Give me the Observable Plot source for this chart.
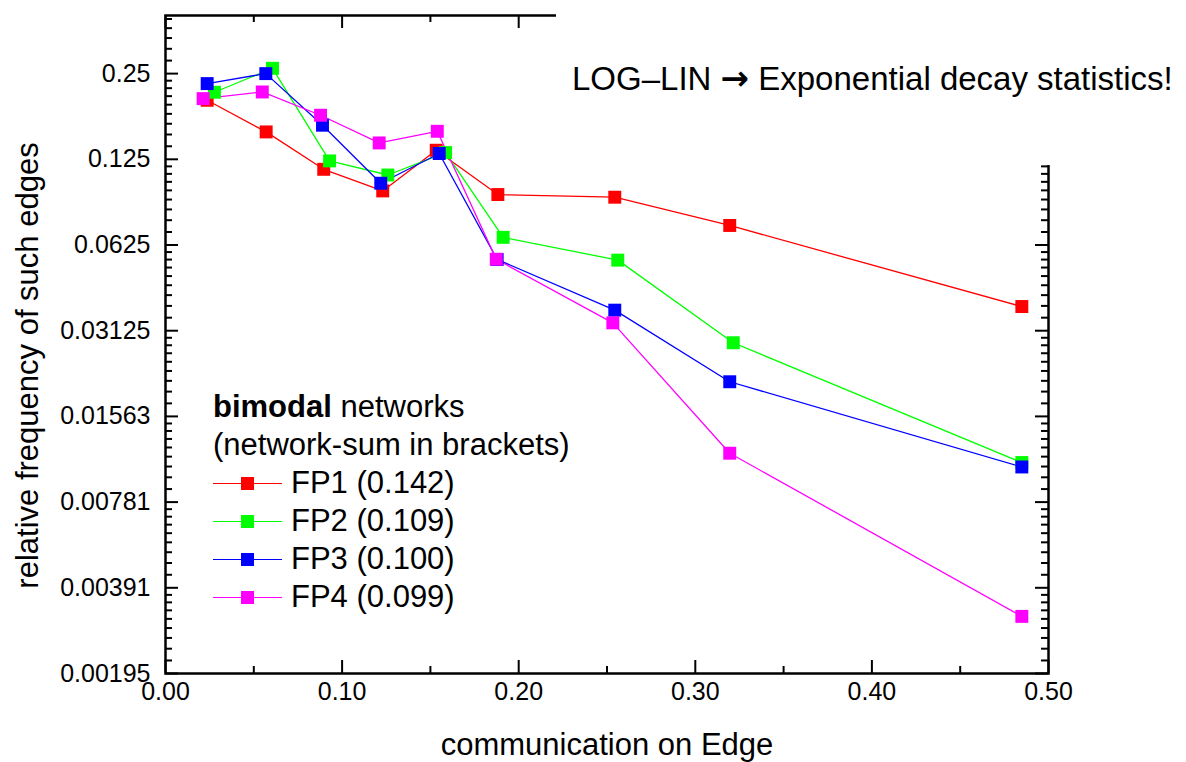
<!DOCTYPE html>
<html>
<head>
<meta charset="utf-8">
<script src="https://cdn.jsdelivr.net/npm/d3@7"></script>
<script src="https://cdn.jsdelivr.net/npm/@observablehq/plot@0.6"></script>
<style>
  html, body { margin: 0; padding: 0; background: #fff; }
  #wrap { position: relative; width: 1186px; height: 762px; overflow: hidden; font-family: "Liberation Sans", Arial, sans-serif; }
  #note { position: absolute; left: 556px; top: 0; width: 630px; height: 165px; background: #fff;
          font-size: 33px; line-height: 33px; color: #000; box-sizing: border-box; padding: 62px 0 0 16px; white-space: nowrap; }
  #note .arr { font-family: "DejaVu Sans", sans-serif; font-weight: bold; font-size: 34px; }
  #legend { position: absolute; left: 213px; top: 388px; font-size: 31px; color: #000; }
  .row { height: 38px; line-height: 38px; display: flex; align-items: center; white-space: nowrap; }
  .sw { position: relative; width: 69px; height: 38px; margin-right: 9px; }
  .sw .ln { position: absolute; left: 0; right: 0; top: 18.5px; height: 1.3px; }
  .sw .mk { position: absolute; left: 28px; top: 12.5px; width: 13px; height: 13px; }
</style>
</head>
<body>
<div id="wrap">
  <div id="chart"></div>
  <div id="note"></div>
  <div id="legend"></div>
</div>
<script>
// ---- data ----
const seriesNames = ["FP1", "FP2", "FP3", "FP4"];
const seriesLabels = ["FP1 (0.142)", "FP2 (0.109)", "FP3 (0.100)", "FP4 (0.099)"];
const seriesColors = ["#ff0000", "#00ff00", "#0000ff", "#ff00ff"];

const xFP1 = [0.0236, 0.0570, 0.0896, 0.1230, 0.1533, 0.1882, 0.2544, 0.3195, 0.4849];
const yFP1 = [0.2015, 0.156, 0.1153, 0.0968, 0.1345, 0.0940, 0.0920, 0.0732, 0.0380];
const xFP2 = [0.0277, 0.0606, 0.0929, 0.1259, 0.1586, 0.1912, 0.2561, 0.3215, 0.4849];
const yFP2 = [0.215, 0.261, 0.1234, 0.1101, 0.132, 0.0665, 0.0553, 0.02835, 0.01076];
const xFP3 = [0.0236, 0.0568, 0.0889, 0.1219, 0.1550, 0.1878, 0.2544, 0.3195, 0.4849];
const yFP3 = [0.2306, 0.250, 0.1647, 0.1030, 0.1310, 0.0556, 0.0369, 0.02068, 0.01038];
const xFP4 = [0.0213, 0.0548, 0.0878, 0.1210, 0.1539, 0.1873, 0.2533, 0.3195, 0.4849];
const yFP4 = [0.2042, 0.2155, 0.1785, 0.1427, 0.1568, 0.0557, 0.0333, 0.0116, 0.0031];

const xTickValues = [0, 0.1, 0.2, 0.3, 0.4, 0.5];
const xTickLabels = ["0.00", "0.10", "0.20", "0.30", "0.40", "0.50"];
const xMinorValues = [0.05, 0.15, 0.25, 0.35, 0.45];
const yTickValues = [0.25, 0.125, 0.0625, 0.03125, 0.015625, 0.0078125, 0.00390625, 0.001953125];
const yTickLabels = ["0.25", "0.125", "0.0625", "0.03125", "0.01563", "0.00781", "0.00391", "0.00195"];

const xTitle = "communication on Edge";
const yTitle = "relative frequency of such edges";
const noteStart = "LOG\u2013LIN ";
const noteArrow = "\u2192";
const noteEnd = " Exponential decay statistics!";

// ---- build table ----
const xs = [xFP1, xFP2, xFP3, xFP4];
const ys = [yFP1, yFP2, yFP3, yFP4];
const data = [];
seriesNames.forEach((s, k) => xs[k].forEach((x, i) => data.push({series: s, x, y: ys[k][i]})));

// minor y ticks: 8 evenly spaced linear ticks inside each octave (axis decoration)
const yTop = 0.4, yBottom = 0.001953125;
const yMinorValues = [];
for (const a of yTickValues) {
  for (let k = 1; k <= 8; k++) {
    const v = a + k * a / 9;
    if (v < yTop) yMinorValues.push(v);
  }
}

const W = 1186, H = 762;
const mL = 165, mR = 138, mT = 15, mB = 89;
const pw = W - mL - mR, ph = H - mT - mB;
const majLen = 13, minLen = 7;

const chart = Plot.plot({
  width: W, height: H,
  marginLeft: mL, marginRight: mR, marginTop: mT, marginBottom: mB,
  style: {fontFamily: "'Liberation Sans', Arial, sans-serif", fontSize: "24px", color: "#000", background: "#fff"},
  x: {domain: [0, 0.5]},
  y: {type: "log", base: 2, domain: [yBottom, yTop]},
  color: {domain: seriesNames, range: seriesColors},
  marks: [
    // tick marks (inward)
    Plot.tickX(xTickValues, {x: d => d, insetTop: ph - majLen, stroke: "#000", strokeWidth: 2}),
    Plot.tickX(xMinorValues, {x: d => d, insetTop: ph - minLen, stroke: "#000", strokeWidth: 2}),
    Plot.tickX(xTickValues, {x: d => d, insetBottom: ph - majLen, stroke: "#000", strokeWidth: 2}),
    Plot.tickX(xMinorValues, {x: d => d, insetBottom: ph - minLen, stroke: "#000", strokeWidth: 2}),
    Plot.tickY(yTickValues, {y: d => d, insetRight: pw - majLen, stroke: "#000", strokeWidth: 2}),
    Plot.tickY(yMinorValues, {y: d => d, insetRight: pw - minLen, stroke: "#000", strokeWidth: 2}),
    Plot.tickY(yTickValues, {y: d => d, insetLeft: pw - majLen, stroke: "#000", strokeWidth: 2}),
    Plot.tickY(yMinorValues, {y: d => d, insetLeft: pw - minLen, stroke: "#000", strokeWidth: 2}),
    Plot.frame({stroke: "#000", strokeWidth: 2.5}),
    // axes labels
    Plot.axisX({ticks: xTickValues, tickFormat: d => xTickLabels[xTickValues.indexOf(d)], tickSize: 0, tickPadding: 9, fontSize: 25, label: null}),
    Plot.axisY({ticks: yTickValues, tickFormat: d => yTickLabels[yTickValues.indexOf(d)], tickSize: 0, tickPadding: 15, fontSize: 25, label: null}),
    Plot.text([xTitle], {frameAnchor: "bottom", dy: 72, text: d => d, fontSize: 31, lineAnchor: "middle", textAnchor: "middle"}),
    Plot.text([yTitle], {frameAnchor: "left", dx: -137, dy: 21, rotate: -90, text: d => d, fontSize: 31, lineAnchor: "middle", textAnchor: "middle"}),
    // data
    Plot.line(data, {x: "x", y: "y", z: "series", stroke: "series", strokeWidth: 1.3}),
    Plot.dot(data, {x: "x", y: "y", fill: "series", symbol: "square", r: 7.3, stroke: null})
  ]
});
document.getElementById("chart").appendChild(chart);

// annotation (covers the top-right corner of the frame as in the reference)
const note = document.getElementById("note");
note.appendChild(document.createTextNode(noteStart));
const arr = document.createElement("span");
arr.className = "arr";
arr.textContent = noteArrow;
note.appendChild(arr);
note.appendChild(document.createTextNode(noteEnd));

// legend
const legend = document.getElementById("legend");
const head = document.createElement("div");
head.className = "row";
head.innerHTML = "<b>bimodal</b>&nbsp;networks";
legend.appendChild(head);
const sub = document.createElement("div");
sub.className = "row";
sub.textContent = "(network-sum in brackets)";
legend.appendChild(sub);
seriesNames.forEach((s, i) => {
  const row = document.createElement("div");
  row.className = "row";
  row.innerHTML = `<span class="sw"><span class="ln" style="background:${seriesColors[i]}"></span><span class="mk" style="background:${seriesColors[i]}"></span></span><span>${seriesLabels[i]}</span>`;
  legend.appendChild(row);
});
</script>
</body>
</html>
